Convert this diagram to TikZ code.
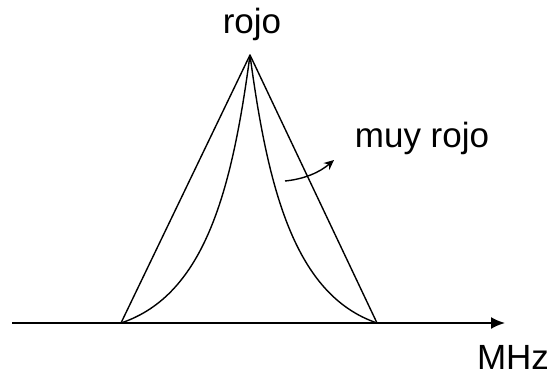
\documentclass[tikz,border=0pt]{standalone}
\usepackage{fontspec}
\setmainfont{Liberation Sans}
\usetikzlibrary{arrows.meta,positioning}

\begin{document}
\begin{tikzpicture}[x=1pt, y=-1pt,
                    lbl/.style={font=\fontsize{35}{40}\selectfont, inner sep=0pt},
                    edge/.style={line width=1.4pt, line join=round}]

\useasboundingbox (0,0) rectangle (558,375);

% Frequency axis
\coordinate (axL) at (12,323);
\coordinate (axR) at (505,323);
\draw[line width=2pt, -{Latex[length=14pt, width=12pt]}] (axL) -- (axR);
\node[lbl] (mhz) at (513,357) {MHz};

% Peak points
\coordinate (apex) at (250,55);
\coordinate (baseL) at (121,323);
\coordinate (baseR) at (377,323);
\node[lbl] (rojo) at (252,24) {rojo};

% Outer triangle
\draw[edge] (baseL) -- (apex) -- (baseR);

% Inner (sharper) peak
\draw[edge] (apex) .. controls (268,190) and (295,295) .. (baseR);
\draw[edge] (apex) .. controls (232,190) and (205,295) .. (baseL);

% Label with its little arrow
\node[lbl] (muy) at (422,138) {muy rojo};
\coordinate (arrS) at (285,181);
\coordinate (arrE) at (334,160);
\draw[line width=1.4pt, -{Stealth[length=10pt, width=9pt]}]
  (arrS) .. controls (305,179) and (320,172) .. (arrE);

\end{tikzpicture}
\end{document}
